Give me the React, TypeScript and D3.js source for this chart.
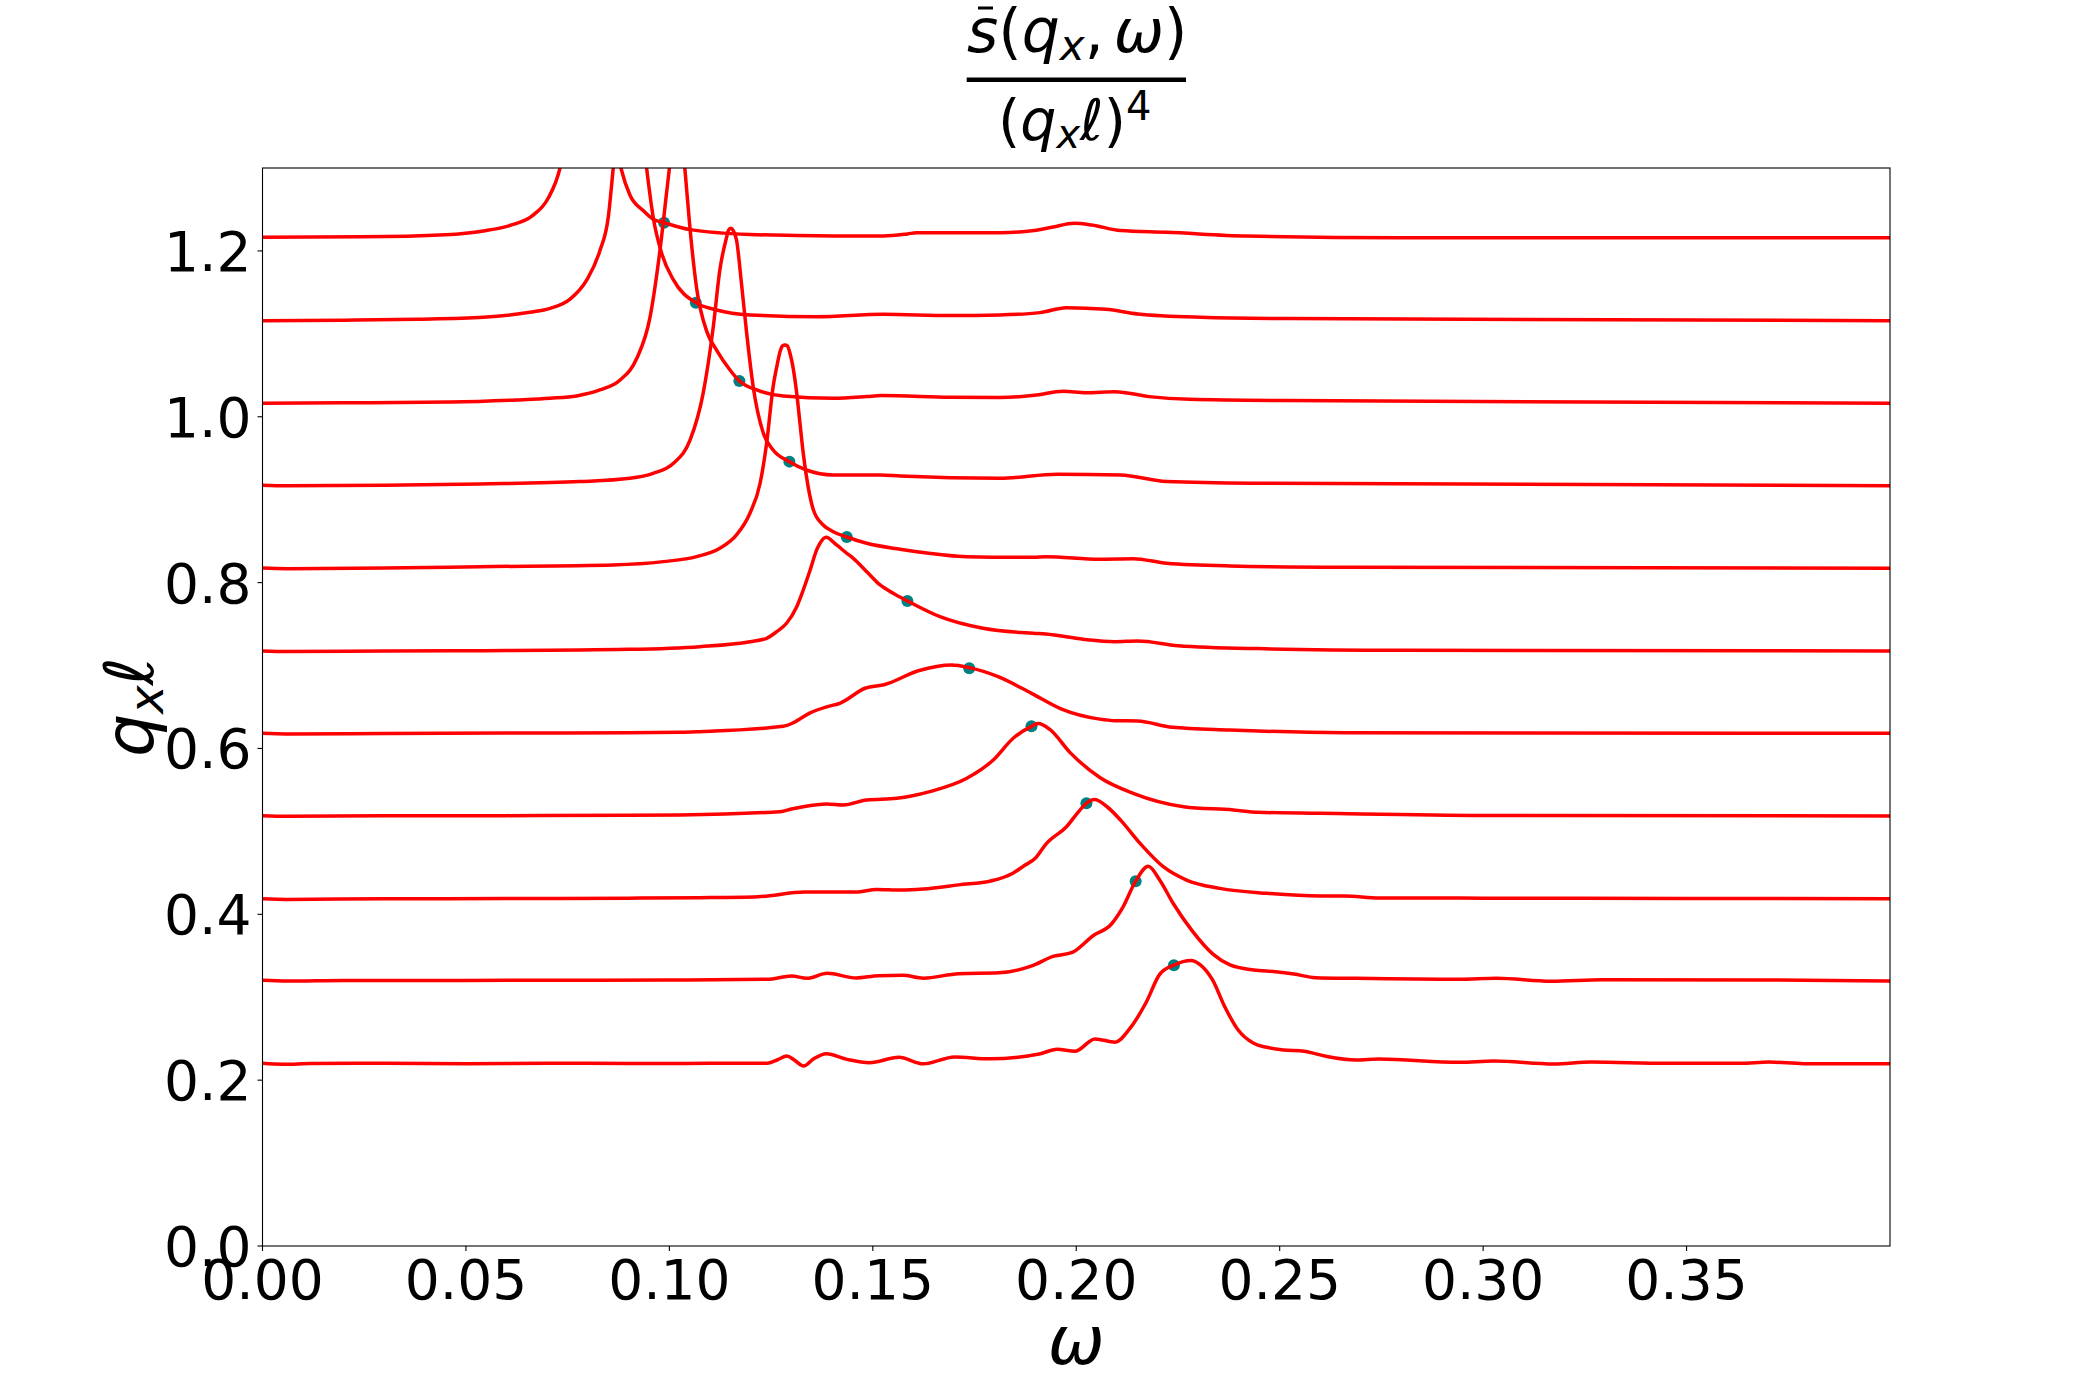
import React from 'react';
import * as d3 from 'd3';

type P = [number, number];

const xTicks = [0, 0.05, 0.1, 0.15, 0.2, 0.25, 0.3, 0.35];
const xTickLabels = ['0.00', '0.05', '0.10', '0.15', '0.20', '0.25', '0.30', '0.35'];
const yTicks = [0, 0.2, 0.4, 0.6, 0.8, 1.0, 1.2];
const yTickLabels = ['0.0', '0.2', '0.4', '0.6', '0.8', '1.0', '1.2'];

const s020: P[] = [[0, 0.2203],[0.005, 0.2192],[0.012, 0.2200],[0.03, 0.2203],[0.05, 0.2198],[0.07, 0.2205],[0.09, 0.2200],[0.11, 0.2203],[0.124, 0.2203],[0.1265, 0.2243],[0.1289, 0.2290],[0.1307, 0.2243],[0.133, 0.2171],[0.1355, 0.2259],[0.1386, 0.2319],[0.1437, 0.2251],[0.1492, 0.2211],[0.1564, 0.2276],[0.1624, 0.2197],[0.1701, 0.2280],[0.1788, 0.2257],[0.1909, 0.2315],[0.1953, 0.2374],[0.1997, 0.2348],[0.2046, 0.2497],[0.2096, 0.2458],[0.2129, 0.2605],[0.2172, 0.2940],[0.2205, 0.3275],[0.2240, 0.3387],[0.2282, 0.3443],[0.2305, 0.3390],[0.2335, 0.3208],[0.2365, 0.2886],[0.2397, 0.2610],[0.2436, 0.2444],[0.2468, 0.2396],[0.2509, 0.2364],[0.2560, 0.2348],[0.2611, 0.2291],[0.2688, 0.2243],[0.2744, 0.2255],[0.2941, 0.2215],[0.3026, 0.2231],[0.3174, 0.2195],[0.3266, 0.2219],[0.3450, 0.2203],[0.3632, 0.2203],[0.3703, 0.2219],[0.3788, 0.2199],[0.4, 0.2199]];

const s030: P[] = [[0, 0.3205],[0.006, 0.3195],[0.02, 0.3203],[0.05, 0.3203],[0.08, 0.3205],[0.1, 0.3208],[0.124, 0.3216],[0.1300, 0.3256],[0.1338, 0.3228],[0.1388, 0.3288],[0.1459, 0.3232],[0.1514, 0.3260],[0.1574, 0.3264],[0.1624, 0.3230],[0.1711, 0.3284],[0.1810, 0.3294],[0.1889, 0.3375],[0.1945, 0.3495],[0.1990, 0.3540],[0.2042, 0.3745],[0.2086, 0.3880],[0.2114, 0.4080],[0.2146, 0.4400],[0.2177, 0.4580],[0.2205, 0.4414],[0.2238, 0.4133],[0.2285, 0.3800],[0.2336, 0.3520],[0.2378, 0.3389],[0.2436, 0.3328],[0.2490, 0.3308],[0.2535, 0.3280],[0.2588, 0.3236],[0.2687, 0.3228],[0.2941, 0.3216],[0.3033, 0.3228],[0.3167, 0.3192],[0.3294, 0.3212],[0.3689, 0.3208],[0.4, 0.3196]];

const s040: P[] = [[0, 0.4188],[0.006, 0.4180],[0.03, 0.4188],[0.06, 0.4190],[0.09, 0.4195],[0.1075, 0.4200],[0.1218, 0.4212],[0.1333, 0.4268],[0.1459, 0.4268],[0.1509, 0.4300],[0.1569, 0.4292],[0.1624, 0.4305],[0.1711, 0.4355],[0.1792, 0.4405],[0.1843, 0.4493],[0.1870, 0.4580],[0.1900, 0.4680],[0.1927, 0.4855],[0.1976, 0.5056],[0.2009, 0.5257],[0.2025, 0.5339],[0.2045, 0.5385],[0.2075, 0.5300],[0.2110, 0.5130],[0.2157, 0.4855],[0.2214, 0.4574],[0.2271, 0.4413],[0.2353, 0.4313],[0.2468, 0.4253],[0.2599, 0.4220],[0.2659, 0.4221],[0.2744, 0.4197],[0.3000, 0.4195],[0.3500, 0.4190],[0.4, 0.4189]];

const s050: P[] = [[0, 0.5190],[0.006, 0.5182],[0.03, 0.5190],[0.06, 0.5190],[0.09, 0.5195],[0.1026, 0.5198],[0.1272, 0.5238],[0.1300, 0.5270],[0.1329, 0.5298],[0.1387, 0.5330],[0.1427, 0.5318],[0.1485, 0.5379],[0.1559, 0.5399],[0.1640, 0.5479],[0.1731, 0.5640],[0.1796, 0.5861],[0.1845, 0.6123],[0.1890, 0.6267],[0.1906, 0.6300],[0.1935, 0.6230],[0.1985, 0.5950],[0.2058, 0.5650],[0.2140, 0.5459],[0.2264, 0.5298],[0.2386, 0.5258],[0.2447, 0.5230],[0.2599, 0.5218],[0.3000, 0.5192],[0.4, 0.5186]];

const s060: P[] = [[0, 0.6182],[0.006, 0.6175],[0.03, 0.6180],[0.06, 0.6185],[0.09, 0.6190],[0.1026, 0.6195],[0.1075, 0.6203],[0.1280, 0.6267],[0.1305, 0.6311],[0.1346, 0.6430],[0.1391, 0.6508],[0.1419, 0.6545],[0.1481, 0.6726],[0.1530, 0.6772],[0.1612, 0.6937],[0.1694, 0.7007],[0.1737, 0.6975],[0.1808, 0.6866],[0.1890, 0.6665],[0.1964, 0.6475],[0.2058, 0.6354],[0.2095, 0.6335],[0.2151, 0.6331],[0.2236, 0.6255],[0.2377, 0.6223],[0.2659, 0.6190],[0.4, 0.6182]];

const s070: P[] = [[0, 0.7176],[0.006, 0.7170],[0.03, 0.7176],[0.06, 0.7180],[0.09, 0.7195],[0.1075, 0.7228],[0.1198, 0.7288],[0.1239, 0.7329],[0.1264, 0.7409],[0.1288, 0.7510],[0.1313, 0.7710],[0.1329, 0.7911],[0.1346, 0.8152],[0.1362, 0.8394],[0.1370, 0.8474],[0.1385, 0.8547],[0.1411, 0.8454],[0.1436, 0.8354],[0.1452, 0.8293],[0.1485, 0.8132],[0.1518, 0.7972],[0.1550, 0.7871],[0.1585, 0.7779],[0.1665, 0.7589],[0.1771, 0.7449],[0.1894, 0.7389],[0.1925, 0.7380],[0.2017, 0.7317],[0.2095, 0.7288],[0.2151, 0.7296],[0.2250, 0.7240],[0.2447, 0.7204],[0.2800, 0.7184],[0.4, 0.7176]];

const s080: P[] = [[0, 0.8175],[0.006, 0.8168],[0.03, 0.8175],[0.0535, 0.8192],[0.0862, 0.8213],[0.0985, 0.8253],[0.1067, 0.8313],[0.1124, 0.8414],[0.1165, 0.8575],[0.1198, 0.8836],[0.1223, 0.9198],[0.1239, 0.9680],[0.1255, 1.0363],[0.1264, 1.0605],[0.1272, 1.0785],[0.1278, 1.0854],[0.1284, 1.0866],[0.1290, 1.0854],[0.1296, 1.0773],[0.1305, 1.0564],[0.1313, 1.0283],[0.1321, 0.9921],[0.1329, 0.9560],[0.1341, 0.9157],[0.1354, 0.8876],[0.1378, 0.8695],[0.1403, 0.8614],[0.1436, 0.8550],[0.1485, 0.8474],[0.1567, 0.8402],[0.1608, 0.8373],[0.1731, 0.8313],[0.1894, 0.8305],[0.1925, 0.8313],[0.2058, 0.8283],[0.2140, 0.8289],[0.2222, 0.8233],[0.2377, 0.8201],[0.2654, 0.8185],[0.4, 0.8173]];

const s090: P[] = [[0, 0.9175],[0.006, 0.9168],[0.03, 0.9175],[0.0535, 0.9190],[0.0780, 0.9218],[0.0903, 0.9258],[0.0960, 0.9318],[0.1010, 0.9439],[0.1051, 0.9720],[0.1083, 1.0283],[0.1108, 1.1087],[0.1124, 1.1770],[0.1141, 1.2172],[0.1145, 1.2245],[0.1151, 1.2273],[0.1157, 1.2245],[0.1165, 1.2132],[0.1178, 1.1569],[0.1190, 1.1007],[0.1206, 1.0363],[0.1231, 0.9801],[0.1255, 0.9600],[0.1295, 0.9459],[0.1337, 0.9358],[0.1403, 0.9298],[0.1518, 0.9298],[0.1567, 0.9286],[0.1812, 0.9258],[0.1954, 0.9306],[0.2109, 0.9298],[0.2222, 0.9218],[0.2433, 0.9198],[0.4, 0.9169]];

const s100: P[] = [[0, 1.0163],[0.02, 1.0168],[0.0461, 1.0178],[0.0625, 1.0203],[0.0707, 1.0223],[0.0772, 1.0251],[0.0829, 1.0323],[0.0879, 1.0444],[0.0920, 1.0705],[0.0952, 1.1190],[0.0977, 1.2012],[0.0993, 1.2695],[0.1000, 1.2996],[0.1019, 1.4000],[0.1038, 1.3000],[0.1051, 1.2253],[0.1067, 1.1550],[0.1092, 1.1027],[0.1116, 1.0805],[0.1149, 1.0564],[0.1172, 1.0432],[0.1215, 1.0323],[0.1280, 1.0251],[0.1403, 1.0223],[0.1485, 1.0243],[0.1520, 1.0255],[0.1690, 1.0235],[0.1812, 1.0231],[0.1897, 1.0259],[0.1968, 1.0307],[0.2024, 1.0291],[0.2095, 1.0303],[0.2179, 1.0243],[0.2278, 1.0211],[0.2518, 1.0195],[0.4, 1.0163]];

const s110: P[] = [[0, 1.1159],[0.02, 1.1165],[0.0379, 1.1176],[0.0543, 1.1200],[0.0657, 1.1260],[0.0707, 1.1308],[0.0756, 1.1419],[0.0797, 1.1650],[0.0829, 1.2000],[0.0850, 1.2413],[0.0862, 1.2997],[0.0903, 1.5000],[0.0944, 1.3000],[0.0960, 1.2413],[0.0981, 1.1972],[0.1010, 1.1650],[0.1065, 1.1376],[0.1116, 1.1288],[0.1198, 1.1228],[0.1362, 1.1207],[0.1526, 1.1236],[0.1690, 1.1220],[0.1812, 1.1228],[0.1911, 1.1256],[0.1975, 1.1316],[0.2073, 1.1296],[0.2151, 1.1240],[0.2306, 1.1200],[0.2518, 1.1184],[0.4, 1.1159]];

const s120: P[] = [[0, 1.2166],[0.0245, 1.2170],[0.0450, 1.2195],[0.0543, 1.2241],[0.0612, 1.2313],[0.0662, 1.2421],[0.0702, 1.2635],[0.0731, 1.2997],[0.0805, 1.6000],[0.0881, 1.3000],[0.0903, 1.2674],[0.0936, 1.2484],[0.0960, 1.2382],[0.0987, 1.2341],[0.1051, 1.2257],[0.1198, 1.2199],[0.1403, 1.2180],[0.1526, 1.2180],[0.1585, 1.2205],[0.1608, 1.2220],[0.1690, 1.2220],[0.1812, 1.2220],[0.1897, 1.2245],[0.1940, 1.2285],[0.1996, 1.2333],[0.2038, 1.2313],[0.2109, 1.2245],[0.2222, 1.2225],[0.2419, 1.2180],[0.2800, 1.2160],[0.4, 1.2158]];

const spectra: P[][] = [s020, s030, s040, s050, s060, s070, s080, s090, s100, s110, s120];

const peakOmega = [0.2240, 0.2146, 0.2025, 0.1890, 0.1737, 0.1585, 0.1436, 0.1295, 0.1172, 0.1065, 0.0987];
const peakY = [0.3387, 0.4400, 0.5339, 0.6267, 0.6967, 0.7779, 0.8550, 0.9459, 1.0432, 1.1376, 1.2341];

const W = 2100;
const H = 1400;
const L = 262.5, R = 1890, T = 168, B = 1246;
const FONT = 'DejaVu Sans';

export default function App() {
  const x = d3.scaleLinear().domain([0, 0.4]).range([L, R]);
  const y = d3.scaleLinear().domain([0, 1.3]).range([B, T]);
  const line = d3.line<P>().x(d => x(d[0])).y(d => y(d[1])).curve(d3.curveMonotoneX);
  const cx = (L + R) / 2;
  const cy = (T + B) / 2;

  return (
    <svg width={W} height={H} style={{ position: 'absolute', left: 0, top: 0, background: '#ffffff' }} fontFamily={FONT}>
      <rect x={0} y={0} width={W} height={H} fill="#ffffff" />
      <defs>
        <clipPath id="plotArea">
          <rect x={L} y={T} width={R - L} height={B - T} />
        </clipPath>
      </defs>
      <g clipPath="url(#plotArea)">
        {peakOmega.map((w, i) => (
          <circle key={'d' + i} cx={x(w)} cy={y(peakY[i])} r={6} fill="#008080" />
        ))}
        {spectra.map((s, i) => (
          <path key={'s' + i} d={line(s) || ''} fill="none" stroke="#ff0000" strokeWidth={3.5} strokeLinejoin="round" strokeLinecap="round" />
        ))}
      </g>
      <rect x={L} y={T} width={R - L} height={B - T} fill="none" stroke="#000" strokeWidth={1.1} />
      {xTicks.map((t, i) => (
        <g key={'xt' + i}>
          <line x1={x(t)} x2={x(t)} y1={B} y2={B + 5} stroke="#000" strokeWidth={1.1} />
          <text x={x(t)} y={B + 53} textAnchor="middle" fontSize={55}>{xTickLabels[i]}</text>
        </g>
      ))}
      {yTicks.map((t, i) => (
        <g key={'yt' + i}>
          <line x1={L - 5} x2={L} y1={y(t)} y2={y(t)} stroke="#000" strokeWidth={1.1} />
          <text x={L - 11} y={y(t) + 20} textAnchor="end" fontSize={55}>{yTickLabels[i]}</text>
        </g>
      ))}
      <text x={cx} y={1364} textAnchor="middle" fontSize={68} fontStyle="italic">ω</text>
      <text transform={`translate(153,${cy}) rotate(-90)`} textAnchor="middle" fontSize={68}>
        <tspan fontStyle="italic">q</tspan>
        <tspan fontStyle="italic" fontSize={48} dy={10}>x</tspan>
        <tspan fontStyle="italic" dy={-10}>ℓ</tspan>
      </text>
      <text x={967} y={52} fontSize={60}>
        <tspan fontStyle="italic">s</tspan>
        <tspan>(</tspan>
        <tspan fontStyle="italic">q</tspan>
        <tspan fontStyle="italic" fontSize={42} dy={8}>x</tspan>
        <tspan dy={-8}>,</tspan>
        <tspan fontStyle="italic" dx={10}>ω</tspan>
        <tspan>)</tspan>
      </text>
      <line x1={978} x2={993} y1={8} y2={8} stroke="#000" strokeWidth={3} />
      <rect x={966.7} y={77.5} width={219.3} height={4.5} fill="#000" />
      <text x={998} y={139.5} fontSize={57}>
        <tspan>(</tspan>
        <tspan fontStyle="italic">q</tspan>
        <tspan fontStyle="italic" fontSize={40} dy={8}>x</tspan>
        <tspan fontStyle="italic" dy={-8}>ℓ</tspan>
        <tspan>)</tspan>
        <tspan fontSize={40} dy={-20}>4</tspan>
      </text>
    </svg>
  );
}
